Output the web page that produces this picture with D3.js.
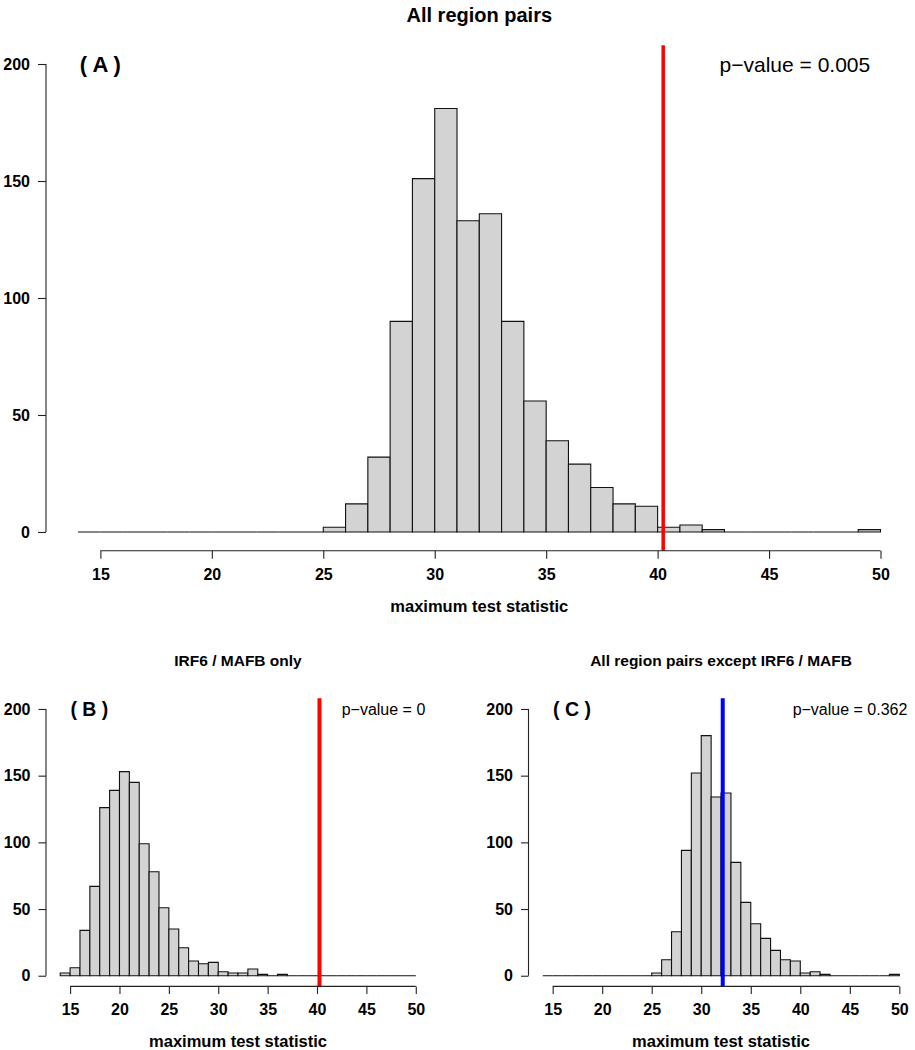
<!DOCTYPE html>
<html>
<head>
<meta charset="utf-8">
<script src="https://cdn.jsdelivr.net/npm/d3@7"></script>
<style>
  html, body { margin: 0; padding: 0; background: #fff; }
  svg { display: block; }
  text { font-family: "Liberation Sans", Arial, Helvetica, sans-serif; fill: #000; }
</style>
</head>
<body>
<svg id="chart" width="915" height="1050"></svg>
<script>
// ---------- data ----------
const binStart = 14;
const binWidth = 1;
// counts per bin [14,15), [15,16), ... [49,50]
const countsA = [0,0,0,0,0,0,0,0,0,0,0, 2,12,32,90,151,181,133,136,90,56,39,29,19,12,11,2,3,1, 0,0,0,0,0,0, 1];
const countsB = [2,6,34,67,126,139,153,145,99,78,51,35,21,11,9,10,3,2,2,5,1,0,1, 0,0,0,0,0,0,0,0,0,0,0,0,0];
const countsC = [0,0,0,0,0,0,0,0,0,0,0, 2,12,33,94,152,180,134,137,85,55,39,28,19,12,11,2,3,1, 0,0,0,0,0,0, 1];

const observedStats = [40.25, 40.25, 32.17];
const lineColors = ["#ff0000", "#ff0000", "#0000ff"];
const titles = ["All region pairs", "IRF6 / MAFB only", "All region pairs except IRF6 / MAFB"];
const panelLabels = ["( A )", "( B )", "( C )"];
const pValueLabels = ["p\u2212value = 0.005", "p\u2212value = 0", "p\u2212value = 0.362"];
const panelLabelX = [15, 16.95, 16.95];
const pValueX = [46.16, 46.73, 45.02];
const xTicks = [15, 20, 25, 30, 35, 40, 45, 50];
const yTicks = [0, 50, 100, 150, 200];
const xLabel = "maximum test statistic";

// ---------- layout ----------
const panels = [
  { counts: countsA, x0: 46,    x1: 912.6, y0: 45.3,  y1: 550.7, tickFs: 16, labFs: 22, pFs: 21, titleFs: 20, xlabFs: 16.5,
    titleY: 22, tickLabY: 580, xlabY: 612, tickLen: 8, lineW: 3.5 },
  { counts: countsB, x0: 46,    x1: 430,   y0: 698.3, y1: 986.4, tickFs: 16, labFs: 19.5, pFs: 16, titleFs: 15.5, xlabFs: 16.5,
    titleY: 666, tickLabY: 1015, xlabY: 1047, tickLen: 7.5, lineW: 4 },
  { counts: countsC, x0: 528.5, x1: 913.6, y0: 698.3, y1: 986.4, tickFs: 16, labFs: 19.5, pFs: 16, titleFs: 15.5, xlabFs: 16.5,
    titleY: 666, tickLabY: 1015, xlabY: 1047, tickLen: 7.5, lineW: 4 }
];

const svg = d3.select("#chart");

panels.forEach((p, i) => {
  const x = d3.scaleLinear().domain([12.56, 51.44]).range([p.x0, p.x1]);
  const y = d3.scaleLinear().domain([-8, 208]).range([p.y1, p.y0]);
  const g = svg.append("g");

  // bars
  const bins = p.counts.map((c, k) => ({ lo: binStart + k * binWidth, hi: binStart + (k + 1) * binWidth, c }));
  g.selectAll("path.bar").data(bins).enter().append("path")
    .attr("class", "bar")
    .attr("d", d => {
      const xa = x(d.lo), xb = x(d.hi), ya = y(0), yb = y(d.c);
      return `M${xa},${ya}L${xa},${yb}L${xb},${yb}L${xb},${ya}Z`;
    })
    .attr("fill", "#d3d3d3")
    .attr("stroke", "#111")
    .attr("stroke-width", 1.1);

  // observed statistic line
  g.append("line")
    .attr("x1", x(observedStats[i])).attr("x2", x(observedStats[i]))
    .attr("y1", p.y0).attr("y2", p.y1)
    .attr("stroke", lineColors[i]).attr("stroke-width", p.lineW);

  // y axis
  const yAxis = g.append("g").attr("transform", `translate(${p.x0},0)`)
    .call(d3.axisLeft(y).tickValues(yTicks).tickSize(p.tickLen).tickSizeOuter(0).tickPadding(8));
  yAxis.select(".domain").remove();
  yAxis.append("line").attr("x1", 0).attr("x2", 0).attr("y1", y(0)).attr("y2", y(200))
    .attr("stroke", "#222").attr("stroke-width", 1.1);
  yAxis.selectAll(".tick line").attr("stroke", "#222").attr("stroke-width", 1.1);
  yAxis.selectAll(".tick text")
    .style("font-family", '"Liberation Sans", Arial, sans-serif')
    .style("font-weight", "bold").style("font-size", p.tickFs + "px").attr("fill", "#000");

  // x axis
  const xAxis = g.append("g").attr("transform", `translate(0,${p.y1})`)
    .call(d3.axisBottom(x).tickValues(xTicks).tickSize(p.tickLen).tickSizeOuter(0).tickPadding(10));
  xAxis.select(".domain").remove();
  xAxis.append("line").attr("x1", x(15)).attr("x2", x(50)).attr("y1", 0).attr("y2", 0)
    .attr("stroke", "#222").attr("stroke-width", 1.1);
  xAxis.selectAll(".tick line").attr("stroke", "#222").attr("stroke-width", 1.1);
  xAxis.selectAll(".tick text")
    .attr("dy", null)
    .attr("y", p.tickLabY - p.y1)
    .style("font-family", '"Liberation Sans", Arial, sans-serif')
    .style("font-weight", "bold").style("font-size", p.tickFs + "px").attr("fill", "#000");

  const cx = (p.x0 + p.x1) / 2;
  // title
  g.append("text").attr("x", cx).attr("y", p.titleY)
    .attr("text-anchor", "middle").style("font-weight", "bold").style("font-size", p.titleFs + "px")
    .text(titles[i]);
  // x label
  g.append("text").attr("x", cx).attr("y", p.xlabY)
    .attr("text-anchor", "middle").style("font-weight", "bold").style("font-size", p.xlabFs + "px")
    .text(xLabel);
  // panel label
  g.append("text").attr("x", x(panelLabelX[i])).attr("y", y(200) + 0.36 * p.labFs)
    .attr("text-anchor", "middle").style("font-weight", "bold").style("font-size", p.labFs + "px")
    .text(panelLabels[i]);
  // p-value
  g.append("text").attr("x", x(pValueX[i])).attr("y", y(200) + 0.36 * p.pFs)
    .attr("text-anchor", "middle").style("font-size", p.pFs + "px")
    .text(pValueLabels[i]);
});
</script>
</body>
</html>
